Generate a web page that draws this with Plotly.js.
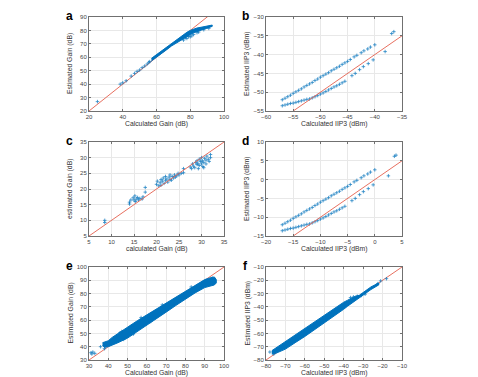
<!DOCTYPE html>
<html><head><meta charset="utf-8">
<script src="https://cdn.plot.ly/plotly-3.0.1.min.js"></script>
<style>html,body{margin:0;padding:0;background:#fff}#chart{width:478px;height:377px}</style>
</head><body><div id="chart"></div>
<script>
// ---------- Panel a ----------
const aPtsX = [25, 38.5, 40, 42, 45, 47, 48.5, 50, 51.5, 53, 54.5, 55.5, 56, 76, 77, 78, 79, 80, 81, 82, 84, 85, 88, 91];
const aPtsY = [27, 40, 41, 42.5, 46, 48, 49.5, 50.5, 52.3, 53.5, 55, 56.3, 56.8, 72.8, 74.5, 74, 75.5, 75.2, 76, 77, 78.3, 78.8, 80.5, 81.5];
const aBandUpX = [57, 60, 63, 66, 69, 72, 75, 78, 80, 82, 84, 87, 90, 93];
const aBandUpY = [59.2, 62, 64.8, 67.7, 70.5, 73.3, 76, 78.6, 80, 81, 81.8, 82.5, 83.2, 84];
const aBandLoX = [57, 60, 63, 66, 69, 72, 75, 78, 80, 82, 84, 87, 90, 93];
const aBandLoY = [57.3, 60, 62.8, 65.6, 68.5, 71, 73.3, 75.3, 76.8, 78.3, 79.5, 80.7, 81.8, 83];

// ---------- Panel b ----------
const bUpX = [-57, -56.5, -56, -55.5, -55, -54.5, -54, -53.5, -53, -52.5, -52, -51.5, -51, -50.5, -50, -49.5, -49, -48.5, -48, -47.5, -47, -46.5, -46, -45.5, -45, -44.5, -43.8, -43.3, -42.5, -42, -41.3, -40.8, -40];
const bUpY = [-52, -51.6, -51.2, -50.8, -50.3, -49.9, -49.5, -49.1, -48.6, -48.2, -47.8, -47.4, -46.9, -46.5, -46, -45.6, -45.2, -44.8, -44.3, -43.9, -43.5, -43.1, -42.6, -42.2, -41.8, -41.3, -40.6, -40.2, -39.5, -39, -38.5, -38, -37.4];
const bLoX = [-57, -56.5, -56, -55.5, -55, -54.5, -54, -53.5, -53, -52.5, -52, -51.5, -51, -50.5, -50, -49.5, -49, -48.5, -48, -47.5, -47, -46.5, -46, -45.5, -44.2, -43.6, -42.8, -42.1, -41.2, -40.3, -38.1, -36.9, -36.5];
const bLoY = [-53.6, -53.4, -53.2, -53, -52.9, -52.7, -52.5, -52.3, -52.1, -51.9, -51.8, -51.5, -51.2, -50.9, -50.5, -50.2, -49.8, -49.4, -49, -48.6, -48.3, -47.9, -47.5, -47.1, -45.6, -45, -44, -43.2, -42.4, -41.4, -39.2, -34.4, -33.9];

// ---------- Panel c ----------
const cX = [8.5, 8.5, 14, 14, 14.3, 14.8, 15, 15.2, 15.3, 15.5, 15.8, 16, 16.3, 16.8, 17, 17.5, 17.5,
  20, 20.2, 20.5, 20.8, 21, 21, 21.3, 21.5, 21.7, 22, 22, 22.3, 22.5, 22.8, 23, 23, 23.3, 23.5, 23.8, 24, 24.2, 24.5, 24.8, 25, 25.5, 26, 26,
  27.5, 27.8, 28, 28.2, 28.5, 28.7, 29, 29, 29.2, 29.5, 29.5, 29.8, 30, 30, 30.2, 30.3, 30.5, 30.7, 31, 31, 31.2, 31.5, 31.7, 32, 32, 30.5, 29.3];
const cY = [10, 9.3, 15.2, 15.8, 16.5, 17.2, 16.5, 17.8, 16, 16.8, 17.3, 16.5, 17, 16.8, 17.5, 19, 20.5,
  21.5, 22.5, 21, 22, 23, 21.2, 22.5, 23.5, 21.8, 22.8, 24, 23.2, 22.2, 23.8, 24.5, 23, 22.8, 24, 23.5, 24.5, 23.8, 24.2, 25, 24.5, 25, 26.5, 25.2,
  27, 26.5, 28, 27.3, 26.8, 28.5, 27.8, 29, 28.2, 27.5, 29.5, 28.8, 28, 30, 29, 27.2, 28.5, 29.8, 29.2, 28, 30.5, 29.5, 28.8, 30, 31, 26.8, 26.5];

// ---------- Panel d ----------
const dUpX = [-17, -16.5, -16, -15.5, -15, -14.5, -14, -13.5, -13, -12.5, -12, -11.5, -11, -10.5, -10, -9.5, -9, -8.5, -8, -7.5, -7, -6.5, -6, -5.5, -5, -4.5, -3.8, -3.3, -2.5, -2, -1.3, -0.8, 0];
const dUpY = [-12, -11.6, -11.2, -10.8, -10.3, -9.9, -9.5, -9.1, -8.6, -8.2, -7.8, -7.4, -6.9, -6.5, -6, -5.6, -5.2, -4.8, -4.3, -3.9, -3.5, -3.1, -2.6, -2.2, -1.8, -1.3, -0.6, -0.2, 0.5, 1, 1.5, 2, 2.6];
const dLoX = [-17, -16.5, -16, -15.5, -15, -14.5, -14, -13.5, -13, -12.5, -12, -11.5, -11, -10.5, -10, -9.5, -9, -8.5, -8, -7.5, -7, -6.5, -6, -5.5, -4.2, -3.6, -2.8, -2.1, -1.2, -0.3, 2.5, 3.6, 3.9];
const dLoY = [-13.6, -13.4, -13.2, -13, -12.9, -12.7, -12.5, -12.3, -12.1, -11.9, -11.8, -11.5, -11.2, -10.9, -10.5, -10.2, -9.8, -9.4, -9, -8.6, -8.3, -7.9, -7.5, -7.1, -5.6, -5, -4, -3.2, -2.4, -1.4, 1.0, 6.2, 6.5];

// ---------- Panel e ----------
const eBandUpX = [37, 40, 42, 45, 50, 55, 60, 65, 70, 75, 80, 85, 90, 93, 95, 96];
const eBandUpY = [43, 44.5, 47, 50, 54.5, 59.5, 64, 68.5, 73, 77.5, 82, 86.5, 90.5, 92, 92.5, 90.5];
const eBandLoX = [37, 38, 40, 42, 45, 50, 55, 60, 65, 70, 75, 80, 85, 90, 95, 96];
const eBandLoY = [41, 39.5, 40, 41, 43, 46.5, 51, 56, 61, 66, 71, 76, 80.5, 84.5, 86.5, 88];
const ePtsX = [31, 31.5, 32, 33, 36, 38, 39, 44, 46, 47, 48, 52, 53, 57, 62, 68, 74, 83, 88, 94];
const ePtsY = [35.5, 34.5, 36, 35, 40, 38.5, 41.5, 47.5, 50.5, 51.5, 45.5, 55.5, 49.5, 62, 59, 71.5, 72, 85, 84, 91.5];

// ---------- Panel f ----------
const fBandUpX = [-77, -75, -70, -65, -60, -55, -50, -45, -42, -40, -38, -36, -34, -32, -30, -26, -22];
const fBandUpY = [-73, -71, -66.5, -61.5, -56.5, -51.5, -46.3, -41.5, -38.5, -36.5, -35, -33.3, -32, -31.3, -29, -25, -22];
const fBandLoX = [-77, -75, -70, -65, -60, -55, -50, -45, -40, -38, -34, -30, -26, -22];
const fBandLoY = [-75.5, -75, -71.8, -67, -62.3, -57.3, -52.3, -47, -41.8, -39.5, -35, -31, -27, -23.5];
const fPtsX = [-78, -76, -36.5, -35, -33, -31, -29, -22.5, -21, -18];
const fPtsY = [-74, -75.5, -33, -32.5, -32, -31.5, -30.5, -22.5, -20.5, -18.8];

// identity reference lines
const lineA = [20, 100], lineB = [-60, -30], lineC = [5, 35], lineD = [-20, 10], lineE = [30, 100], lineF = [-80, -10];

const BLUE = '#0072BD', RED = '#e4604e';
const FONT = 'Liberation Sans, Arial, sans-serif';

function pts(x, y, xa, ya) {
  return {type: 'scatter', mode: 'markers', x, y, xaxis: xa, yaxis: ya, showlegend: false, hoverinfo: 'skip',
    marker: {symbol: 'cross-thin', size: 2.5, color: BLUE, opacity: 0.85, line: {color: BLUE, width: 0.8}}};
}
function band(ux, uy, lx, ly, xa, ya) {
  const x = ux.concat(lx.slice().reverse());
  const y = uy.concat(ly.slice().reverse());
  return {type: 'scatter', mode: 'lines', x, y, fill: 'toself', fillcolor: BLUE, xaxis: xa, yaxis: ya,
    line: {color: BLUE, width: 1}, showlegend: false, hoverinfo: 'skip'};
}
function ident(l, xa, ya) {
  return {type: 'scatter', mode: 'lines', x: l, y: l, xaxis: xa, yaxis: ya, showlegend: false, hoverinfo: 'skip',
    line: {color: RED, width: 0.9}};
}

const traces = [
  ident(lineA, 'x', 'y'), band(aBandUpX, aBandUpY, aBandLoX, aBandLoY, 'x', 'y'), pts(aPtsX, aPtsY, 'x', 'y'),
  pts(bUpX, bUpY, 'x2', 'y2'), pts(bLoX, bLoY, 'x2', 'y2'), ident(lineB, 'x2', 'y2'),
  pts(cX, cY, 'x3', 'y3'), ident(lineC, 'x3', 'y3'),
  pts(dUpX, dUpY, 'x4', 'y4'), pts(dLoX, dLoY, 'x4', 'y4'), ident(lineD, 'x4', 'y4'),
  ident(lineE, 'x5', 'y5'), band(eBandUpX, eBandUpY, eBandLoX, eBandLoY, 'x5', 'y5'), pts(ePtsX, ePtsY, 'x5', 'y5'),
  ident(lineF, 'x6', 'y6'), band(fBandUpX, fBandUpY, fBandLoX, fBandLoY, 'x6', 'y6'), pts(fPtsX, fPtsY, 'x6', 'y6')
];

const W = 478, H = 377;
const colX = [[89, 224], [266, 402]];
const rowY = [[17, 111], [142, 236], [267, 360]];
function ax(domainPx, isY, range, dtick, anchor) {
  const d = isY ? [1 - domainPx[1] / H, 1 - domainPx[0] / H] : [domainPx[0] / W, domainPx[1] / W];
  return {domain: d, range, dtick, tick0: range[0], anchor, showline: true, mirror: 'ticks', linecolor: '#707070', linewidth: 1,
    showgrid: true, gridcolor: '#e8e8e8', gridwidth: 1, zeroline: false, ticks: 'inside', ticklen: 2, tickcolor: '#707070',
    tickfont: {family: FONT, size: 6, color: '#444'}, fixedrange: true, automargin: false};
}
const layout = {
  width: W, height: H, margin: {l: 0, r: 0, t: 0, b: 0}, paper_bgcolor: '#fff', plot_bgcolor: '#fff',
  font: {family: FONT},
  xaxis: ax(colX[0], false, [20, 100], 20, 'y'), yaxis: ax(rowY[0], true, [20, 90], 10, 'x'),
  xaxis2: ax(colX[1], false, [-60, -35], 5, 'y2'), yaxis2: ax(rowY[0], true, [-55, -30], 5, 'x2'),
  xaxis3: ax(colX[0], false, [5, 35], 5, 'y3'), yaxis3: ax(rowY[1], true, [5, 35], 5, 'x3'),
  xaxis4: ax(colX[1], false, [-20, 5], 5, 'y4'), yaxis4: ax(rowY[1], true, [-15, 10], 5, 'x4'),
  xaxis5: ax(colX[0], false, [30, 100], 10, 'y5'), yaxis5: ax(rowY[2], true, [30, 100], 10, 'x5'),
  xaxis6: ax(colX[1], false, [-80, -10], 10, 'y6'), yaxis6: ax(rowY[2], true, [-80, -10], 10, 'x6'),
  annotations: []
};
const xTitles = ['Calculated Gain (dB)', 'Calculated IIP3 (dBm)', 'calculated Gain (dB)', 'Calculated IIP3 (dBm)', 'Calculated Gain (dB)', 'Calculated IIP3 (dBm)'];
const yTitles = ['Estimated Gain (dB)', 'Estimated IIP3 (dBm)', 'estimated Gain (dB)', 'Estimated IIP3 (dBm)', 'Estimated Gain (dB)', 'Estimated IIP3 (dBm)'];
const labels = ['a', 'b', 'c', 'd', 'e', 'f'];
for (let i = 0; i < 6; i++) {
  const c = colX[i % 2], r = rowY[Math.floor(i / 2)];
  layout.annotations.push({xref: 'paper', yref: 'paper', x: (c[0] + c[1]) / 2 / W, y: 1 - (r[1] + 13) / H,
    text: xTitles[i], showarrow: false, xanchor: 'center', yanchor: 'middle', font: {family: FONT, size: 6.8, color: '#333'}});
  layout.annotations.push({xref: 'paper', yref: 'paper', x: (c[0] - 19) / W, y: 1 - (r[0] + r[1]) / 2 / H,
    text: yTitles[i], textangle: -90, showarrow: false, xanchor: 'center', yanchor: 'middle', font: {family: FONT, size: 6.8, color: '#333'}});
  layout.annotations.push({xref: 'paper', yref: 'paper', x: (c[0] - 20) / W, y: 1 - (r[0] - 1) / H,
    text: '<b>' + labels[i] + '</b>', showarrow: false, xanchor: 'center', yanchor: 'middle', font: {family: FONT, size: 12, color: '#000'}});
}
Plotly.newPlot('chart', traces, layout, {displayModeBar: false, staticPlot: true});
</script></body></html>
